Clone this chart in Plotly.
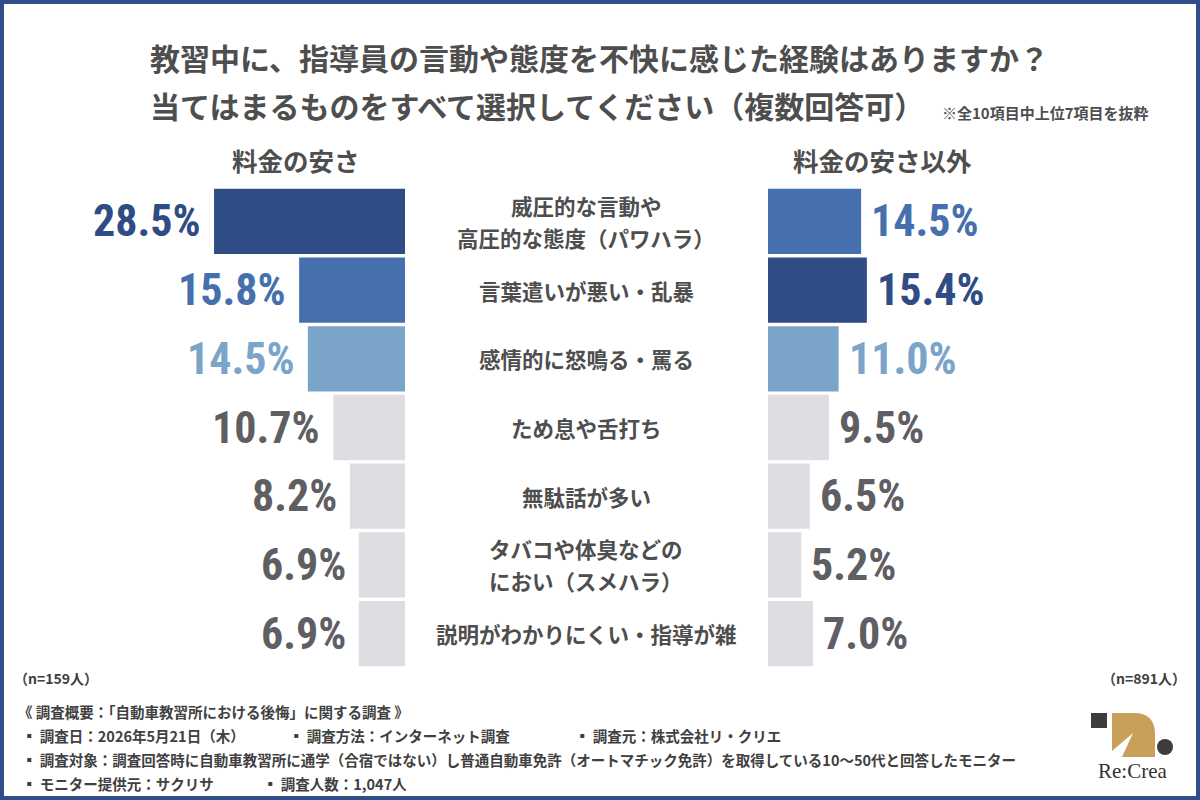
import plotly.graph_objects as go

W, H = 1200, 800

# ---------------- data ----------------
categories = [
    "威圧的な言動や\n高圧的な態度（パワハラ）",
    "言葉遣いが悪い・乱暴",
    "感情的に怒鳴る・罵る",
    "ため息や舌打ち",
    "無駄話が多い",
    "タバコや体臭などの\nにおい（スメハラ）",
    "説明がわかりにくい・指導が雑",
]
price_values = [28.5, 15.8, 14.5, 10.7, 8.2, 6.9, 6.9]
other_values = [14.5, 15.4, 11.0, 9.5, 6.5, 5.2, 7.0]

group_left = "料金の安さ"
group_right = "料金の安さ以外"
n_left = "（n=159人）"
n_right = "（n=891人）"

title_line1 = "教習中に、指導員の言動や態度を不快に感じた経験はありますか？"
title_line2 = "当てはまるものをすべて選択してください（複数回答可）"
note = "※全10項目中上位7項目を抜粋"

footer_head = "《 調査概要：「自動車教習所における後悔」に関する調査 》"
footer_row2 = ["▪ 調査日：2026年5月21日（木）", "▪ 調査方法：インターネット調査", "▪ 調査元：株式会社リ・クリエ"]
footer_row3 = ["▪ 調査対象：調査回答時に自動車教習所に通学（合宿ではない）し普通自動車免許（オートマチック免許）を取得している10〜50代と回答したモニター"]
footer_row4 = ["▪ モニター提供元：サクリサ", "▪ 調査人数：1,047人"]
logo_text = "Re:Crea"

# ---------------- styles ----------------
DARK = "#2f4c85"
MID = "#4670ad"
LIGHT = "#7ba4c9"
GRAY = "#dfdce2"
GRAY_TXT = "#5f5f63"
TXT = "#4e4e4e"

left_colors = [DARK, MID, LIGHT, GRAY, GRAY, GRAY, GRAY]
right_colors = [MID, DARK, LIGHT, GRAY, GRAY, GRAY, GRAY]


def txt_color(c):
    return GRAY_TXT if c == GRAY else c


JP = "Noto Sans CJK JP, Noto Sans CJK SC, sans-serif"
NUM = "Roboto Condensed, Roboto, sans-serif"


def px(x):
    return x / W


def py(y):
    return 1 - y / H


fig = go.Figure()

fig.add_trace(go.Bar(
    x=price_values, y=categories, orientation="h",
    marker=dict(color=left_colors, line=dict(width=0)),
    xaxis="x", yaxis="y", hoverinfo="skip", showlegend=False,
))
fig.add_trace(go.Bar(
    x=other_values, y=categories, orientation="h",
    marker=dict(color=right_colors, line=dict(width=0)),
    xaxis="x2", yaxis="y", hoverinfo="skip", showlegend=False,
))

ann = []

# value labels
for cat, v, c in zip(categories, price_values, left_colors):
    ann.append(dict(x=v, y=cat, xref="x", yref="y", text=f"{v:.1f}%",
                    xanchor="right", yanchor="middle", xshift=-11, showarrow=False,
                    font=dict(family=NUM, size=44, color=txt_color(c), weight="bold")))
for cat, v, c in zip(categories, other_values, right_colors):
    ann.append(dict(x=v, y=cat, xref="x2", yref="y", text=f"{v:.1f}%",
                    xanchor="left", yanchor="middle", xshift=8, showarrow=False,
                    font=dict(family=NUM, size=44, color=txt_color(c), weight="bold")))

# category labels in the centre
for cat in categories:
    lines = cat.split("\n")
    k = len(lines)
    for i, line in enumerate(lines):
        shift = (k - 1) / 2 * 32 - i * 32
        ann.append(dict(x=px(586), y=cat, xref="paper", yref="y", text=line,
                        xanchor="center", yanchor="middle", yshift=shift, showarrow=False,
                        font=dict(family=JP, size=21.5, color=TXT, weight="bold")))

# titles
ann.append(dict(x=px(148), y=py(57), xref="paper", yref="paper", text=title_line1,
                xanchor="left", yanchor="middle", showarrow=False,
                font=dict(family=JP, size=30, color=TXT, weight="bold")))
ann.append(dict(x=px(148), y=py(105), xref="paper", yref="paper", text=title_line2,
                xanchor="left", yanchor="middle", showarrow=False,
                font=dict(family=JP, size=30, color=TXT, weight="bold")))
ann.append(dict(x=px(940), y=py(112), xref="paper", yref="paper", text=note,
                xanchor="left", yanchor="middle", showarrow=False,
                font=dict(family=JP, size=15, color=TXT, weight="bold")))

# group headers
ann.append(dict(x=px(296), y=py(160), xref="paper", yref="paper", text=group_left,
                xanchor="center", yanchor="middle", showarrow=False,
                font=dict(family=JP, size=25.5, color=TXT, weight="bold")))
ann.append(dict(x=px(882), y=py(160), xref="paper", yref="paper", text=group_right,
                xanchor="center", yanchor="middle", showarrow=False,
                font=dict(family=JP, size=25.5, color=TXT, weight="bold")))

# n labels
ann.append(dict(x=px(12), y=py(678), xref="paper", yref="paper", text=n_left,
                xanchor="left", yanchor="middle", showarrow=False,
                font=dict(family=JP, size=14, color="#404040", weight="bold")))
ann.append(dict(x=px(1188), y=py(678), xref="paper", yref="paper", text=n_right,
                xanchor="right", yanchor="middle", showarrow=False,
                font=dict(family=JP, size=14, color="#404040", weight="bold")))

# footer
FOOT = dict(family=JP, size=14.5, color="#404040", weight="bold")
ann.append(dict(x=px(16), y=py(711), xref="paper", yref="paper", text=footer_head,
                xanchor="left", yanchor="middle", showarrow=False, font=FOOT))
for txt, x0 in zip(footer_row2, [20, 287, 573]):
    ann.append(dict(x=px(x0), y=py(735), xref="paper", yref="paper", text=txt,
                    xanchor="left", yanchor="middle", showarrow=False, font=FOOT))
for txt, x0 in zip(footer_row3, [20]):
    ann.append(dict(x=px(x0), y=py(759), xref="paper", yref="paper", text=txt,
                    xanchor="left", yanchor="middle", showarrow=False, font=FOOT))
for txt, x0 in zip(footer_row4, [20, 261]):
    ann.append(dict(x=px(x0), y=py(783), xref="paper", yref="paper", text=txt,
                    xanchor="left", yanchor="middle", showarrow=False, font=FOOT))

# logo text
ann.append(dict(x=px(1132), y=py(771), xref="paper", yref="paper", text=logo_text,
                xanchor="center", yanchor="middle", showarrow=False,
                font=dict(family="Liberation Serif, DejaVu Serif, serif", size=21, color="#333333")))

# ---------------- shapes ----------------
def P(x, y):
    return f"{px(x):.5f},{py(y):.5f}"


shapes = [
    # frame
    dict(type="rect", xref="paper", yref="paper", x0=0, y0=0, x1=1, y1=1,
         line=dict(color="#2f4e86", width=8), fillcolor="rgba(0,0,0,0)", layer="above"),
    # logo: dark square
    dict(type="rect", xref="paper", yref="paper", x0=px(1091), x1=px(1107), y0=py(728), y1=py(713),
         fillcolor="#3d3b3c", line=dict(width=0)),
    # logo: gold leaf
    dict(type="path", xref="paper", yref="paper",
         path=(f"M{P(1112,713)} L{P(1134,713)} Q{P(1155,713)} {P(1155,734)} "
               f"L{P(1155,757)} L{P(1122,757)} L{P(1133,733)} L{P(1112,751)} Z"),
         fillcolor="#c9a05a", line=dict(width=0)),
    # logo: dark circle
    dict(type="circle", xref="paper", yref="paper", x0=px(1157), x1=px(1173), y0=py(755), y1=py(739),
         fillcolor="#3d3b3c", line=dict(width=0)),
]

left_px = 405
right_px = 768
left_scale = 6.7
right_scale = 6.42

fig.update_layout(
    width=W, height=H,
    margin=dict(l=0, r=0, t=0, b=0),
    paper_bgcolor="white", plot_bgcolor="rgba(0,0,0,0)",
    bargap=0.05,
    xaxis=dict(domain=[0, px(left_px)], range=[left_px / left_scale, 0],
               visible=False, fixedrange=True),
    xaxis2=dict(domain=[px(right_px), 1], range=[0, (W - right_px) / right_scale],
                visible=False, fixedrange=True, anchor="y"),
    yaxis=dict(domain=[py(668), py(187)], autorange="reversed", visible=False,
               type="category", fixedrange=True, anchor="x"),
    annotations=ann,
    shapes=shapes,
)

fig.write_html("out.html")
